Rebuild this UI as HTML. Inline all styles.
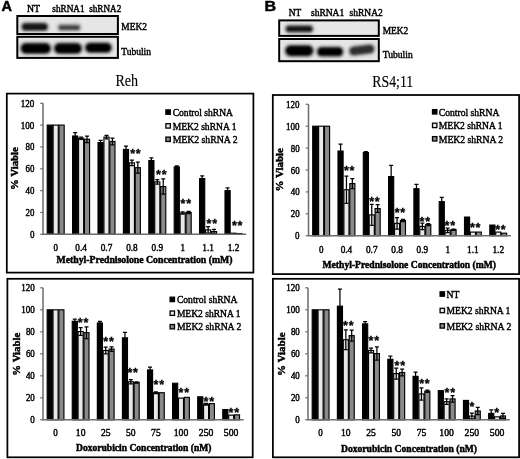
<!DOCTYPE html>
<html lang="en"><head><meta charset="utf-8"><title>MEK2 knockdown figure</title>
<style>html,body{margin:0;padding:0;background:#fff}svg{display:block}</style></head><body>
<svg width="520" height="459" viewBox="0 0 520 459">
<defs><filter id="bl" x="-20%" y="-50%" width="140%" height="200%"><feGaussianBlur stdDeviation="1.1"/></filter><filter id="soft" x="0" y="0" width="520" height="459" filterUnits="userSpaceOnUse"><feGaussianBlur stdDeviation="0.35"/></filter><filter id="bl2" x="-20%" y="-60%" width="140%" height="220%"><feGaussianBlur stdDeviation="1.7"/></filter></defs>
<rect width="520" height="459" fill="#fff"/>
<g filter="url(#soft)">
<text x="1.60" y="11.20" font-family='"Liberation Sans", "DejaVu Sans", sans-serif' font-size="14.5" font-weight="bold" stroke="#000" stroke-width="0.5" >A</text>
<text x="264.40" y="11.40" font-family='"Liberation Sans", "DejaVu Sans", sans-serif' font-size="15" font-weight="bold" textLength="11.60" lengthAdjust="spacingAndGlyphs" stroke="#000" stroke-width="0.5" >B</text>
<rect x="17.3" y="16.0" width="100.60000000000001" height="18.0" fill="#e6e6e6" stroke="#000" stroke-width="2"/>
<rect x="17.3" y="36.8" width="100.60000000000001" height="21.1" fill="#e6e6e6" stroke="#000" stroke-width="2"/>
<g transform="rotate(0 34.8 26.9)"><rect x="20.5" y="22.0" width="28.5" height="9.8" rx="4.7" fill="#111" opacity="0.43" filter="url(#bl2)"/><rect x="22.5" y="23.8" width="24.5" height="6.2" rx="3.1" fill="#111" opacity="0.95" filter="url(#bl)"/></g>
<g transform="rotate(0 69.2 27.6)"><rect x="57.0" y="23.6" width="24.5" height="8.0" rx="3.8" fill="#222" opacity="0.34" filter="url(#bl2)"/><rect x="59.0" y="25.4" width="20.5" height="4.4" rx="2.2" fill="#222" opacity="0.75" filter="url(#bl)"/></g>
<g transform="rotate(0 35.8 48.4)"><rect x="19.5" y="42.0" width="32.5" height="12.8" rx="6.2" fill="#000" opacity="0.45" filter="url(#bl2)"/><rect x="21.5" y="43.8" width="28.5" height="9.2" rx="4.6" fill="#000" opacity="1" filter="url(#bl)"/></g>
<g transform="rotate(0 68.0 48.4)"><rect x="53.0" y="42.0" width="30.0" height="12.8" rx="6.2" fill="#000" opacity="0.45" filter="url(#bl2)"/><rect x="55.0" y="43.8" width="26.0" height="9.2" rx="4.6" fill="#000" opacity="1" filter="url(#bl)"/></g>
<g transform="rotate(0 98.4 47.8)"><rect x="84.0" y="41.8" width="28.8" height="12.0" rx="5.8" fill="#000" opacity="0.45" filter="url(#bl2)"/><rect x="86.0" y="43.6" width="24.8" height="8.4" rx="4.2" fill="#000" opacity="1" filter="url(#bl)"/></g>
<text x="27.00" y="12.00" font-family='"Liberation Serif", "DejaVu Serif", serif' font-size="10" textLength="13.00" lengthAdjust="spacingAndGlyphs" stroke="#000" stroke-width="0.45" >NT</text>
<text x="52.30" y="12.00" font-family='"Liberation Serif", "DejaVu Serif", serif' font-size="10" textLength="32.30" lengthAdjust="spacingAndGlyphs" stroke="#000" stroke-width="0.45" >shRNA1</text>
<text x="89.20" y="12.00" font-family='"Liberation Serif", "DejaVu Serif", serif' font-size="10" textLength="32.10" lengthAdjust="spacingAndGlyphs" stroke="#000" stroke-width="0.45" >shRNA2</text>
<text x="121.30" y="30.40" font-family='"Liberation Serif", "DejaVu Serif", serif' font-size="10.5" textLength="25.70" lengthAdjust="spacingAndGlyphs" stroke="#000" stroke-width="0.45" >MEK2</text>
<text x="121.30" y="55.40" font-family='"Liberation Serif", "DejaVu Serif", serif' font-size="10.5" textLength="29.70" lengthAdjust="spacingAndGlyphs" stroke="#000" stroke-width="0.45" >Tubulin</text>
<rect x="279.2" y="20.4" width="99.60000000000002" height="15.5" fill="#e6e6e6" stroke="#000" stroke-width="2"/>
<rect x="279.2" y="39.0" width="99.60000000000002" height="22.200000000000003" fill="#e6e6e6" stroke="#000" stroke-width="2"/>
<g transform="rotate(0 299.2 28.9)"><rect x="284.5" y="24.5" width="29.5" height="8.8" rx="4.2" fill="#111" opacity="0.43" filter="url(#bl2)"/><rect x="286.5" y="26.3" width="25.5" height="5.2" rx="2.6" fill="#111" opacity="0.95" filter="url(#bl)"/></g>
<g transform="rotate(0 299.2 50.7)"><rect x="284.0" y="44.2" width="30.5" height="13.0" rx="6.3" fill="#000" opacity="0.45" filter="url(#bl2)"/><rect x="286.0" y="46.0" width="26.5" height="9.4" rx="4.7" fill="#000" opacity="1" filter="url(#bl)"/></g>
<g transform="rotate(0 330.1 51.7)"><rect x="316.0" y="46.0" width="28.2" height="11.4" rx="5.5" fill="#000" opacity="0.45" filter="url(#bl2)"/><rect x="318.0" y="47.8" width="24.2" height="7.8" rx="3.9" fill="#000" opacity="1" filter="url(#bl)"/></g>
<g transform="rotate(-7 361.8 50.0)"><rect x="348.0" y="44.4" width="27.5" height="11.2" rx="5.4" fill="#222" opacity="0.41" filter="url(#bl2)"/><rect x="350.0" y="46.2" width="23.5" height="7.6" rx="3.8" fill="#222" opacity="0.9" filter="url(#bl)"/></g>
<text x="288.80" y="15.80" font-family='"Liberation Serif", "DejaVu Serif", serif' font-size="10" textLength="12.50" lengthAdjust="spacingAndGlyphs" stroke="#000" stroke-width="0.45" >NT</text>
<text x="311.00" y="15.80" font-family='"Liberation Serif", "DejaVu Serif", serif' font-size="10" textLength="33.20" lengthAdjust="spacingAndGlyphs" stroke="#000" stroke-width="0.45" >shRNA1</text>
<text x="349.60" y="15.80" font-family='"Liberation Serif", "DejaVu Serif", serif' font-size="10" textLength="33.10" lengthAdjust="spacingAndGlyphs" stroke="#000" stroke-width="0.45" >shRNA2</text>
<text x="382.70" y="34.20" font-family='"Liberation Serif", "DejaVu Serif", serif' font-size="10.5" textLength="25.60" lengthAdjust="spacingAndGlyphs" stroke="#000" stroke-width="0.45" >MEK2</text>
<text x="382.70" y="57.70" font-family='"Liberation Serif", "DejaVu Serif", serif' font-size="10.5" textLength="30.00" lengthAdjust="spacingAndGlyphs" stroke="#000" stroke-width="0.45" >Tubulin</text>
<text x="115.40" y="85.80" font-family='"Liberation Serif", "DejaVu Serif", serif' font-size="17" textLength="22.60" lengthAdjust="spacingAndGlyphs" stroke="#000" stroke-width="0.15" >Reh</text>
<text x="372.30" y="87.00" font-family='"Liberation Serif", "DejaVu Serif", serif' font-size="17" textLength="40.90" lengthAdjust="spacingAndGlyphs" stroke="#000" stroke-width="0.15" >RS4;11</text>
<rect x="6.8" y="93.6" width="246.6" height="179.00000000000003" fill="#fff" stroke="#000" stroke-width="1.75"/>
<rect x="47.22" y="125.10" width="5.12" height="109.20" fill="#000" stroke="#000" stroke-width="1.15"/>
<rect x="53.14" y="125.10" width="5.12" height="109.20" fill="#e9e9e9" stroke="#000" stroke-width="1.15"/>
<rect x="59.06" y="125.10" width="5.12" height="109.20" fill="#8a8a8a" stroke="#000" stroke-width="1.15"/>
<rect x="72.62" y="136.02" width="5.12" height="98.28" fill="#000" stroke="#000" stroke-width="1.15"/>
<rect x="78.54" y="138.20" width="5.12" height="96.10" fill="#e9e9e9" stroke="#000" stroke-width="1.15"/>
<rect x="84.46" y="139.30" width="5.12" height="95.00" fill="#8a8a8a" stroke="#000" stroke-width="1.15"/>
<rect x="98.02" y="142.57" width="5.12" height="91.73" fill="#000" stroke="#000" stroke-width="1.15"/>
<rect x="103.94" y="137.11" width="5.12" height="97.19" fill="#e9e9e9" stroke="#000" stroke-width="1.15"/>
<rect x="109.86" y="141.48" width="5.12" height="92.82" fill="#8a8a8a" stroke="#000" stroke-width="1.15"/>
<rect x="123.42" y="149.45" width="5.12" height="84.85" fill="#000" stroke="#000" stroke-width="1.15"/>
<rect x="129.34" y="162.88" width="5.12" height="71.42" fill="#e9e9e9" stroke="#000" stroke-width="1.15"/>
<rect x="135.26" y="167.69" width="5.12" height="66.61" fill="#8a8a8a" stroke="#000" stroke-width="1.15"/>
<rect x="148.82" y="160.59" width="5.12" height="73.71" fill="#000" stroke="#000" stroke-width="1.15"/>
<rect x="154.74" y="181.88" width="5.12" height="52.42" fill="#e9e9e9" stroke="#000" stroke-width="1.15"/>
<rect x="160.66" y="186.58" width="5.12" height="47.72" fill="#8a8a8a" stroke="#000" stroke-width="1.15"/>
<rect x="174.22" y="166.92" width="5.12" height="67.38" fill="#000" stroke="#000" stroke-width="1.15"/>
<rect x="180.14" y="213.01" width="5.12" height="21.29" fill="#e9e9e9" stroke="#000" stroke-width="1.15"/>
<rect x="186.06" y="212.46" width="5.12" height="21.84" fill="#8a8a8a" stroke="#000" stroke-width="1.15"/>
<rect x="199.62" y="178.61" width="5.12" height="55.69" fill="#000" stroke="#000" stroke-width="1.15"/>
<rect x="205.54" y="229.93" width="5.12" height="4.37" fill="#e9e9e9" stroke="#000" stroke-width="1.15"/>
<rect x="211.46" y="231.57" width="5.12" height="2.73" fill="#8a8a8a" stroke="#000" stroke-width="1.15"/>
<rect x="225.02" y="190.62" width="5.12" height="43.68" fill="#000" stroke="#000" stroke-width="1.15"/>
<rect x="230.94" y="233.21" width="5.12" height="1.09" fill="#e9e9e9" stroke="#000" stroke-width="1.15"/>
<rect x="236.86" y="233.54" width="5.12" height="0.76" fill="#8a8a8a" stroke="#000" stroke-width="1.15"/>
<path d="M75.18 132.74V136.02M73.18 132.74H77.18" stroke="#000" stroke-width="1.25" fill="none"/>
<path d="M81.10 137.11V139.30M79.10 137.11H83.10M79.10 139.30H83.10" stroke="#000" stroke-width="1.25" fill="none"/>
<path d="M87.02 136.02V142.57M85.02 136.02H89.02M85.02 142.57H89.02" stroke="#000" stroke-width="1.25" fill="none"/>
<path d="M100.58 140.39V142.57M98.58 140.39H102.58" stroke="#000" stroke-width="1.25" fill="none"/>
<path d="M106.50 135.47V138.75M104.50 135.47H108.50M104.50 138.75H108.50" stroke="#000" stroke-width="1.25" fill="none"/>
<path d="M112.42 138.20V144.76M110.42 138.20H114.42M110.42 144.76H114.42" stroke="#000" stroke-width="1.25" fill="none"/>
<path d="M125.98 146.18V149.45M123.98 146.18H127.98" stroke="#000" stroke-width="1.25" fill="none"/>
<path d="M131.90 160.15V165.61M129.90 160.15H133.90M129.90 165.61H133.90" stroke="#000" stroke-width="1.25" fill="none"/>
<path d="M137.82 162.23V173.15M135.82 162.23H139.82M135.82 173.15H139.82" stroke="#000" stroke-width="1.25" fill="none"/>
<path d="M151.38 157.86V160.59M149.38 157.86H153.38" stroke="#000" stroke-width="1.25" fill="none"/>
<path d="M157.30 179.70V184.07M155.30 179.70H159.30M155.30 184.07H159.30" stroke="#000" stroke-width="1.25" fill="none"/>
<path d="M163.22 178.94V194.22M161.22 178.94H165.22M161.22 194.22H165.22" stroke="#000" stroke-width="1.25" fill="none"/>
<path d="M176.78 165.83V166.92M174.78 165.83H178.78" stroke="#000" stroke-width="1.25" fill="none"/>
<path d="M182.70 211.91V214.10M180.70 211.91H184.70M180.70 214.10H184.70" stroke="#000" stroke-width="1.25" fill="none"/>
<path d="M188.62 211.37V213.55M186.62 211.37H190.62M186.62 213.55H190.62" stroke="#000" stroke-width="1.25" fill="none"/>
<path d="M202.18 175.88V178.61M200.18 175.88H204.18" stroke="#000" stroke-width="1.25" fill="none"/>
<path d="M208.10 226.66V233.21M206.10 226.66H210.10M206.10 233.21H210.10" stroke="#000" stroke-width="1.25" fill="none"/>
<path d="M214.02 229.39V233.75M212.02 229.39H216.02M212.02 233.75H216.02" stroke="#000" stroke-width="1.25" fill="none"/>
<path d="M227.58 187.89V190.62M225.58 187.89H229.58" stroke="#000" stroke-width="1.25" fill="none"/>
<path d="M43 103.26V234.30H246.2" stroke="#6c6c6c" stroke-width="1.5" fill="none"/>
<path d="M40.20 234.30H43" stroke="#6c6c6c" stroke-width="1.2"/>
<text x="29.90" y="237.80" font-family='"Liberation Serif", "DejaVu Serif", serif' font-size="10.3" textLength="4.50" lengthAdjust="spacingAndGlyphs" stroke="#000" stroke-width="0.45" >0</text>
<path d="M40.20 212.46H43" stroke="#6c6c6c" stroke-width="1.2"/>
<text x="25.50" y="215.96" font-family='"Liberation Serif", "DejaVu Serif", serif' font-size="10.3" textLength="8.90" lengthAdjust="spacingAndGlyphs" stroke="#000" stroke-width="0.45" >20</text>
<path d="M40.20 190.62H43" stroke="#6c6c6c" stroke-width="1.2"/>
<text x="25.50" y="194.12" font-family='"Liberation Serif", "DejaVu Serif", serif' font-size="10.3" textLength="8.90" lengthAdjust="spacingAndGlyphs" stroke="#000" stroke-width="0.45" >40</text>
<path d="M40.20 168.78H43" stroke="#6c6c6c" stroke-width="1.2"/>
<text x="25.50" y="172.28" font-family='"Liberation Serif", "DejaVu Serif", serif' font-size="10.3" textLength="8.90" lengthAdjust="spacingAndGlyphs" stroke="#000" stroke-width="0.45" >60</text>
<path d="M40.20 146.94H43" stroke="#6c6c6c" stroke-width="1.2"/>
<text x="25.50" y="150.44" font-family='"Liberation Serif", "DejaVu Serif", serif' font-size="10.3" textLength="8.90" lengthAdjust="spacingAndGlyphs" stroke="#000" stroke-width="0.45" >80</text>
<path d="M40.20 125.10H43" stroke="#6c6c6c" stroke-width="1.2"/>
<text x="20.80" y="128.60" font-family='"Liberation Serif", "DejaVu Serif", serif' font-size="10.3" textLength="13.60" lengthAdjust="spacingAndGlyphs" stroke="#000" stroke-width="0.45" >100</text>
<path d="M40.20 103.26H43" stroke="#6c6c6c" stroke-width="1.2"/>
<text x="20.80" y="106.76" font-family='"Liberation Serif", "DejaVu Serif", serif' font-size="10.3" textLength="13.60" lengthAdjust="spacingAndGlyphs" stroke="#000" stroke-width="0.45" >120</text>
<text x="53.45" y="251.30" font-family='"Liberation Serif", "DejaVu Serif", serif' font-size="10.3" textLength="4.50" lengthAdjust="spacingAndGlyphs" stroke="#000" stroke-width="0.45" >0</text>
<text x="75.35" y="251.30" font-family='"Liberation Serif", "DejaVu Serif", serif' font-size="10.3" textLength="11.50" lengthAdjust="spacingAndGlyphs" stroke="#000" stroke-width="0.45" >0.4</text>
<text x="100.75" y="251.30" font-family='"Liberation Serif", "DejaVu Serif", serif' font-size="10.3" textLength="11.50" lengthAdjust="spacingAndGlyphs" stroke="#000" stroke-width="0.45" >0.7</text>
<text x="126.15" y="251.30" font-family='"Liberation Serif", "DejaVu Serif", serif' font-size="10.3" textLength="11.50" lengthAdjust="spacingAndGlyphs" stroke="#000" stroke-width="0.45" >0.8</text>
<text x="151.55" y="251.30" font-family='"Liberation Serif", "DejaVu Serif", serif' font-size="10.3" textLength="11.50" lengthAdjust="spacingAndGlyphs" stroke="#000" stroke-width="0.45" >0.9</text>
<text x="180.45" y="251.30" font-family='"Liberation Serif", "DejaVu Serif", serif' font-size="10.3" textLength="4.50" lengthAdjust="spacingAndGlyphs" stroke="#000" stroke-width="0.45" >1</text>
<text x="202.25" y="251.30" font-family='"Liberation Serif", "DejaVu Serif", serif' font-size="10.3" textLength="11.70" lengthAdjust="spacingAndGlyphs" stroke="#000" stroke-width="0.45" >1.1</text>
<text x="227.65" y="251.30" font-family='"Liberation Serif", "DejaVu Serif", serif' font-size="10.3" textLength="11.70" lengthAdjust="spacingAndGlyphs" stroke="#000" stroke-width="0.45" >1.2</text>
<text x="130.20" y="158.30" font-family='"Liberation Sans", "DejaVu Sans", sans-serif' font-size="12.5" font-weight="bold" letter-spacing="0.75" stroke="#000" stroke-width="0.3">**</text>
<text x="156.10" y="178.80" font-family='"Liberation Sans", "DejaVu Sans", sans-serif' font-size="12.5" font-weight="bold" letter-spacing="0.75" stroke="#000" stroke-width="0.3">**</text>
<text x="180.60" y="207.60" font-family='"Liberation Sans", "DejaVu Sans", sans-serif' font-size="12.5" font-weight="bold" letter-spacing="0.75" stroke="#000" stroke-width="0.3">**</text>
<text x="206.60" y="227.60" font-family='"Liberation Sans", "DejaVu Sans", sans-serif' font-size="12.5" font-weight="bold" letter-spacing="0.75" stroke="#000" stroke-width="0.3">**</text>
<text x="231.90" y="230.40" font-family='"Liberation Sans", "DejaVu Sans", sans-serif' font-size="12.5" font-weight="bold" letter-spacing="0.75" stroke="#000" stroke-width="0.3">**</text>
<text x="56.50" y="262.50" font-family='"Liberation Serif", "DejaVu Serif", serif' font-size="10.5" font-weight="bold" textLength="176.00" lengthAdjust="spacingAndGlyphs" stroke="#000" stroke-width="0.5" >Methyl-Prednisolone Concentration (mM)</text>
<text transform="translate(18.3 190.10) rotate(-90)" font-family='"Liberation Serif", "DejaVu Serif", serif' font-size="10.5" font-weight="bold" stroke="#000" stroke-width="0.45" textLength="43" lengthAdjust="spacingAndGlyphs">% Viable</text>
<rect x="165.90" y="109.90" width="4.4" height="4.4" fill="#000" stroke="#000" stroke-width="1.3"/>
<text x="172.70" y="115.80" font-family='"Liberation Serif", "DejaVu Serif", serif' font-size="11" textLength="60.30" lengthAdjust="spacingAndGlyphs" stroke="#000" stroke-width="0.45" >Control shRNA</text>
<rect x="165.90" y="123.70" width="4.4" height="4.4" fill="#e9e9e9" stroke="#000" stroke-width="1.3"/>
<text x="172.70" y="129.60" font-family='"Liberation Serif", "DejaVu Serif", serif' font-size="11" textLength="63.80" lengthAdjust="spacingAndGlyphs" stroke="#000" stroke-width="0.45" >MEK2 shRNA 1</text>
<rect x="165.90" y="137.10" width="4.4" height="4.4" fill="#8a8a8a" stroke="#000" stroke-width="1.3"/>
<text x="172.70" y="143.00" font-family='"Liberation Serif", "DejaVu Serif", serif' font-size="11" textLength="64.80" lengthAdjust="spacingAndGlyphs" stroke="#000" stroke-width="0.45" >MEK2 shRNA 2</text>
<rect x="272.8" y="95.0" width="246.3" height="179.10000000000002" fill="#fff" stroke="#000" stroke-width="1.75"/>
<rect x="312.71" y="126.20" width="5.09" height="109.50" fill="#000" stroke="#000" stroke-width="1.15"/>
<rect x="318.60" y="126.20" width="5.09" height="109.50" fill="#e9e9e9" stroke="#000" stroke-width="1.15"/>
<rect x="324.50" y="126.20" width="5.09" height="109.50" fill="#8a8a8a" stroke="#000" stroke-width="1.15"/>
<rect x="338.01" y="151.06" width="5.09" height="84.64" fill="#000" stroke="#000" stroke-width="1.15"/>
<rect x="343.90" y="189.71" width="5.09" height="45.99" fill="#e9e9e9" stroke="#000" stroke-width="1.15"/>
<rect x="349.80" y="183.58" width="5.09" height="52.12" fill="#8a8a8a" stroke="#000" stroke-width="1.15"/>
<rect x="363.31" y="152.48" width="5.09" height="83.22" fill="#000" stroke="#000" stroke-width="1.15"/>
<rect x="369.20" y="214.89" width="5.09" height="20.80" fill="#e9e9e9" stroke="#000" stroke-width="1.15"/>
<rect x="375.10" y="208.54" width="5.09" height="27.16" fill="#8a8a8a" stroke="#000" stroke-width="1.15"/>
<rect x="388.61" y="176.57" width="5.09" height="59.13" fill="#000" stroke="#000" stroke-width="1.15"/>
<rect x="394.50" y="223.33" width="5.09" height="12.37" fill="#e9e9e9" stroke="#000" stroke-width="1.15"/>
<rect x="400.40" y="220.48" width="5.09" height="15.22" fill="#8a8a8a" stroke="#000" stroke-width="1.15"/>
<rect x="413.91" y="188.72" width="5.09" height="46.98" fill="#000" stroke="#000" stroke-width="1.15"/>
<rect x="419.80" y="226.39" width="5.09" height="9.31" fill="#e9e9e9" stroke="#000" stroke-width="1.15"/>
<rect x="425.70" y="224.64" width="5.09" height="11.06" fill="#8a8a8a" stroke="#000" stroke-width="1.15"/>
<rect x="439.21" y="201.65" width="5.09" height="34.05" fill="#000" stroke="#000" stroke-width="1.15"/>
<rect x="445.10" y="230.33" width="5.09" height="5.37" fill="#e9e9e9" stroke="#000" stroke-width="1.15"/>
<rect x="451.00" y="229.68" width="5.09" height="6.02" fill="#8a8a8a" stroke="#000" stroke-width="1.15"/>
<rect x="464.51" y="217.08" width="5.09" height="18.61" fill="#000" stroke="#000" stroke-width="1.15"/>
<rect x="470.40" y="232.09" width="5.09" height="3.61" fill="#e9e9e9" stroke="#000" stroke-width="1.15"/>
<rect x="476.30" y="232.09" width="5.09" height="3.61" fill="#8a8a8a" stroke="#000" stroke-width="1.15"/>
<rect x="489.81" y="225.08" width="5.09" height="10.62" fill="#000" stroke="#000" stroke-width="1.15"/>
<rect x="495.70" y="232.09" width="5.09" height="3.61" fill="#e9e9e9" stroke="#000" stroke-width="1.15"/>
<rect x="501.60" y="233.18" width="5.09" height="2.52" fill="#8a8a8a" stroke="#000" stroke-width="1.15"/>
<path d="M340.56 144.05V151.06M338.56 144.05H342.56" stroke="#000" stroke-width="1.25" fill="none"/>
<path d="M346.45 176.02V203.40M344.45 176.02H348.45M344.45 203.40H348.45" stroke="#000" stroke-width="1.25" fill="none"/>
<path d="M352.34 178.65V188.51M350.34 178.65H354.34M350.34 188.51H354.34" stroke="#000" stroke-width="1.25" fill="none"/>
<path d="M365.86 151.60V152.48M363.86 151.60H367.86" stroke="#000" stroke-width="1.25" fill="none"/>
<path d="M371.75 204.49V225.30M369.75 204.49H373.75M369.75 225.30H373.75" stroke="#000" stroke-width="1.25" fill="none"/>
<path d="M377.64 204.71V212.38M375.64 204.71H379.64M375.64 212.38H379.64" stroke="#000" stroke-width="1.25" fill="none"/>
<path d="M391.16 165.29V176.57M389.16 165.29H393.16" stroke="#000" stroke-width="1.25" fill="none"/>
<path d="M397.05 217.63V229.02M395.05 217.63H399.05M395.05 229.02H399.05" stroke="#000" stroke-width="1.25" fill="none"/>
<path d="M402.94 219.38V221.57M400.94 219.38H404.94M400.94 221.57H404.94" stroke="#000" stroke-width="1.25" fill="none"/>
<path d="M416.46 184.34V188.72M414.46 184.34H418.46" stroke="#000" stroke-width="1.25" fill="none"/>
<path d="M422.35 223.11V229.68M420.35 223.11H424.35M420.35 229.68H424.35" stroke="#000" stroke-width="1.25" fill="none"/>
<path d="M428.24 223.55V225.74M426.24 223.55H430.24M426.24 225.74H430.24" stroke="#000" stroke-width="1.25" fill="none"/>
<path d="M441.76 197.27V201.65M439.76 197.27H443.76" stroke="#000" stroke-width="1.25" fill="none"/>
<path d="M447.65 228.14V232.52M445.65 228.14H449.65M445.65 232.52H449.65" stroke="#000" stroke-width="1.25" fill="none"/>
<path d="M453.54 229.02V230.33M451.54 229.02H455.54M451.54 230.33H455.54" stroke="#000" stroke-width="1.25" fill="none"/>
<path d="M308.5 104.30V235.70H510.9" stroke="#6c6c6c" stroke-width="1.5" fill="none"/>
<path d="M305.70 235.70H308.5" stroke="#6c6c6c" stroke-width="1.2"/>
<text x="295.10" y="239.20" font-family='"Liberation Serif", "DejaVu Serif", serif' font-size="10.3" textLength="4.50" lengthAdjust="spacingAndGlyphs" stroke="#000" stroke-width="0.45" >0</text>
<path d="M305.70 213.80H308.5" stroke="#6c6c6c" stroke-width="1.2"/>
<text x="290.70" y="217.30" font-family='"Liberation Serif", "DejaVu Serif", serif' font-size="10.3" textLength="8.90" lengthAdjust="spacingAndGlyphs" stroke="#000" stroke-width="0.45" >20</text>
<path d="M305.70 191.90H308.5" stroke="#6c6c6c" stroke-width="1.2"/>
<text x="290.70" y="195.40" font-family='"Liberation Serif", "DejaVu Serif", serif' font-size="10.3" textLength="8.90" lengthAdjust="spacingAndGlyphs" stroke="#000" stroke-width="0.45" >40</text>
<path d="M305.70 170.00H308.5" stroke="#6c6c6c" stroke-width="1.2"/>
<text x="290.70" y="173.50" font-family='"Liberation Serif", "DejaVu Serif", serif' font-size="10.3" textLength="8.90" lengthAdjust="spacingAndGlyphs" stroke="#000" stroke-width="0.45" >60</text>
<path d="M305.70 148.10H308.5" stroke="#6c6c6c" stroke-width="1.2"/>
<text x="290.70" y="151.60" font-family='"Liberation Serif", "DejaVu Serif", serif' font-size="10.3" textLength="8.90" lengthAdjust="spacingAndGlyphs" stroke="#000" stroke-width="0.45" >80</text>
<path d="M305.70 126.20H308.5" stroke="#6c6c6c" stroke-width="1.2"/>
<text x="286.00" y="129.70" font-family='"Liberation Serif", "DejaVu Serif", serif' font-size="10.3" textLength="13.60" lengthAdjust="spacingAndGlyphs" stroke="#000" stroke-width="0.45" >100</text>
<path d="M305.70 104.30H308.5" stroke="#6c6c6c" stroke-width="1.2"/>
<text x="286.00" y="107.80" font-family='"Liberation Serif", "DejaVu Serif", serif' font-size="10.3" textLength="13.60" lengthAdjust="spacingAndGlyphs" stroke="#000" stroke-width="0.45" >120</text>
<text x="318.90" y="252.90" font-family='"Liberation Serif", "DejaVu Serif", serif' font-size="10.3" textLength="4.50" lengthAdjust="spacingAndGlyphs" stroke="#000" stroke-width="0.45" >0</text>
<text x="340.70" y="252.90" font-family='"Liberation Serif", "DejaVu Serif", serif' font-size="10.3" textLength="11.50" lengthAdjust="spacingAndGlyphs" stroke="#000" stroke-width="0.45" >0.4</text>
<text x="366.00" y="252.90" font-family='"Liberation Serif", "DejaVu Serif", serif' font-size="10.3" textLength="11.50" lengthAdjust="spacingAndGlyphs" stroke="#000" stroke-width="0.45" >0.7</text>
<text x="391.30" y="252.90" font-family='"Liberation Serif", "DejaVu Serif", serif' font-size="10.3" textLength="11.50" lengthAdjust="spacingAndGlyphs" stroke="#000" stroke-width="0.45" >0.8</text>
<text x="416.60" y="252.90" font-family='"Liberation Serif", "DejaVu Serif", serif' font-size="10.3" textLength="11.50" lengthAdjust="spacingAndGlyphs" stroke="#000" stroke-width="0.45" >0.9</text>
<text x="445.40" y="252.90" font-family='"Liberation Serif", "DejaVu Serif", serif' font-size="10.3" textLength="4.50" lengthAdjust="spacingAndGlyphs" stroke="#000" stroke-width="0.45" >1</text>
<text x="467.10" y="252.90" font-family='"Liberation Serif", "DejaVu Serif", serif' font-size="10.3" textLength="11.70" lengthAdjust="spacingAndGlyphs" stroke="#000" stroke-width="0.45" >1.1</text>
<text x="492.40" y="252.90" font-family='"Liberation Serif", "DejaVu Serif", serif' font-size="10.3" textLength="11.70" lengthAdjust="spacingAndGlyphs" stroke="#000" stroke-width="0.45" >1.2</text>
<text x="344.00" y="174.90" font-family='"Liberation Sans", "DejaVu Sans", sans-serif' font-size="12.5" font-weight="bold" letter-spacing="0.75" stroke="#000" stroke-width="0.3">**</text>
<text x="369.20" y="205.80" font-family='"Liberation Sans", "DejaVu Sans", sans-serif' font-size="12.5" font-weight="bold" letter-spacing="0.75" stroke="#000" stroke-width="0.3">**</text>
<text x="394.70" y="216.60" font-family='"Liberation Sans", "DejaVu Sans", sans-serif' font-size="12.5" font-weight="bold" letter-spacing="0.75" stroke="#000" stroke-width="0.3">**</text>
<text x="419.60" y="225.50" font-family='"Liberation Sans", "DejaVu Sans", sans-serif' font-size="12.5" font-weight="bold" letter-spacing="0.75" stroke="#000" stroke-width="0.3">**</text>
<text x="444.60" y="230.00" font-family='"Liberation Sans", "DejaVu Sans", sans-serif' font-size="12.5" font-weight="bold" letter-spacing="0.75" stroke="#000" stroke-width="0.3">**</text>
<text x="470.00" y="231.60" font-family='"Liberation Sans", "DejaVu Sans", sans-serif' font-size="12.5" font-weight="bold" letter-spacing="0.75" stroke="#000" stroke-width="0.3">**</text>
<text x="495.20" y="234.30" font-family='"Liberation Sans", "DejaVu Sans", sans-serif' font-size="12.5" font-weight="bold" letter-spacing="0.75" stroke="#000" stroke-width="0.3">**</text>
<text x="322.50" y="267.70" font-family='"Liberation Serif", "DejaVu Serif", serif' font-size="10.5" font-weight="bold" textLength="173.50" lengthAdjust="spacingAndGlyphs" stroke="#000" stroke-width="0.5" >Methyl-Prednisolone Concentration (mM)</text>
<text transform="translate(283.3 191.55) rotate(-90)" font-family='"Liberation Serif", "DejaVu Serif", serif' font-size="10.5" font-weight="bold" stroke="#000" stroke-width="0.45" textLength="43.5" lengthAdjust="spacingAndGlyphs">% Viable</text>
<rect x="432.50" y="109.60" width="4.4" height="4.4" fill="#000" stroke="#000" stroke-width="1.3"/>
<text x="438.80" y="115.50" font-family='"Liberation Serif", "DejaVu Serif", serif' font-size="11" textLength="60.60" lengthAdjust="spacingAndGlyphs" stroke="#000" stroke-width="0.45" >Control shRNA</text>
<rect x="432.50" y="123.20" width="4.4" height="4.4" fill="#e9e9e9" stroke="#000" stroke-width="1.3"/>
<text x="438.80" y="129.10" font-family='"Liberation Serif", "DejaVu Serif", serif' font-size="11" textLength="63.70" lengthAdjust="spacingAndGlyphs" stroke="#000" stroke-width="0.45" >MEK2 shRNA 1</text>
<rect x="432.50" y="136.60" width="4.4" height="4.4" fill="#8a8a8a" stroke="#000" stroke-width="1.3"/>
<text x="438.80" y="142.50" font-family='"Liberation Serif", "DejaVu Serif", serif' font-size="11" textLength="64.40" lengthAdjust="spacingAndGlyphs" stroke="#000" stroke-width="0.45" >MEK2 shRNA 2</text>
<rect x="7.4" y="278.8" width="245.29999999999998" height="178.5" fill="#fff" stroke="#000" stroke-width="1.75"/>
<rect x="47.18" y="309.80" width="5.05" height="110.00" fill="#000" stroke="#000" stroke-width="1.15"/>
<rect x="53.02" y="309.80" width="5.05" height="110.00" fill="#e9e9e9" stroke="#000" stroke-width="1.15"/>
<rect x="58.87" y="309.80" width="5.05" height="110.00" fill="#8a8a8a" stroke="#000" stroke-width="1.15"/>
<rect x="72.26" y="321.35" width="5.05" height="98.45" fill="#000" stroke="#000" stroke-width="1.15"/>
<rect x="78.11" y="331.58" width="5.05" height="88.22" fill="#e9e9e9" stroke="#000" stroke-width="1.15"/>
<rect x="83.95" y="332.68" width="5.05" height="87.12" fill="#8a8a8a" stroke="#000" stroke-width="1.15"/>
<rect x="97.35" y="323.00" width="5.05" height="96.80" fill="#000" stroke="#000" stroke-width="1.15"/>
<rect x="103.20" y="350.50" width="5.05" height="69.30" fill="#e9e9e9" stroke="#000" stroke-width="1.15"/>
<rect x="109.04" y="349.07" width="5.05" height="70.73" fill="#8a8a8a" stroke="#000" stroke-width="1.15"/>
<rect x="122.44" y="337.85" width="5.05" height="81.95" fill="#000" stroke="#000" stroke-width="1.15"/>
<rect x="128.28" y="381.74" width="5.05" height="38.06" fill="#e9e9e9" stroke="#000" stroke-width="1.15"/>
<rect x="134.13" y="382.51" width="5.05" height="37.29" fill="#8a8a8a" stroke="#000" stroke-width="1.15"/>
<rect x="147.53" y="369.97" width="5.05" height="49.83" fill="#000" stroke="#000" stroke-width="1.15"/>
<rect x="153.37" y="392.74" width="5.05" height="27.06" fill="#e9e9e9" stroke="#000" stroke-width="1.15"/>
<rect x="159.22" y="392.74" width="5.05" height="27.06" fill="#8a8a8a" stroke="#000" stroke-width="1.15"/>
<rect x="172.61" y="383.28" width="5.05" height="36.52" fill="#000" stroke="#000" stroke-width="1.15"/>
<rect x="178.46" y="398.13" width="5.05" height="21.67" fill="#e9e9e9" stroke="#000" stroke-width="1.15"/>
<rect x="184.30" y="397.36" width="5.05" height="22.44" fill="#8a8a8a" stroke="#000" stroke-width="1.15"/>
<rect x="197.70" y="396.81" width="5.05" height="22.99" fill="#000" stroke="#000" stroke-width="1.15"/>
<rect x="203.55" y="404.18" width="5.05" height="15.62" fill="#e9e9e9" stroke="#000" stroke-width="1.15"/>
<rect x="209.39" y="403.63" width="5.05" height="16.17" fill="#8a8a8a" stroke="#000" stroke-width="1.15"/>
<rect x="222.79" y="409.57" width="5.05" height="10.23" fill="#000" stroke="#000" stroke-width="1.15"/>
<rect x="228.63" y="415.18" width="5.05" height="4.62" fill="#e9e9e9" stroke="#000" stroke-width="1.15"/>
<rect x="234.48" y="414.85" width="5.05" height="4.95" fill="#8a8a8a" stroke="#000" stroke-width="1.15"/>
<path d="M74.79 319.15V321.35M72.79 319.15H76.79" stroke="#000" stroke-width="1.25" fill="none"/>
<path d="M80.63 327.73V335.43M78.63 327.73H82.63M78.63 335.43H82.63" stroke="#000" stroke-width="1.25" fill="none"/>
<path d="M86.48 326.85V338.51M84.48 326.85H88.48M84.48 338.51H88.48" stroke="#000" stroke-width="1.25" fill="none"/>
<path d="M99.87 321.35V323.00M97.87 321.35H101.87" stroke="#000" stroke-width="1.25" fill="none"/>
<path d="M105.72 347.20V353.80M103.72 347.20H107.72M103.72 353.80H107.72" stroke="#000" stroke-width="1.25" fill="none"/>
<path d="M111.56 346.87V351.27M109.56 346.87H113.56M109.56 351.27H113.56" stroke="#000" stroke-width="1.25" fill="none"/>
<path d="M124.96 332.35V337.85M122.96 332.35H126.96" stroke="#000" stroke-width="1.25" fill="none"/>
<path d="M130.81 379.54V383.94M128.81 379.54H132.81M128.81 383.94H132.81" stroke="#000" stroke-width="1.25" fill="none"/>
<path d="M136.65 381.85V383.17M134.65 381.85H138.65M134.65 383.17H138.65" stroke="#000" stroke-width="1.25" fill="none"/>
<path d="M150.05 367.00V369.97M148.05 367.00H152.05" stroke="#000" stroke-width="1.25" fill="none"/>
<path d="M155.89 391.86V393.62M153.89 391.86H157.89M153.89 393.62H157.89" stroke="#000" stroke-width="1.25" fill="none"/>
<path d="M206.07 403.30V405.06M204.07 403.30H208.07M204.07 405.06H208.07" stroke="#000" stroke-width="1.25" fill="none"/>
<path d="M43 287.80V419.80H243.7" stroke="#6c6c6c" stroke-width="1.5" fill="none"/>
<path d="M40.20 419.80H43" stroke="#6c6c6c" stroke-width="1.2"/>
<text x="30.30" y="423.30" font-family='"Liberation Serif", "DejaVu Serif", serif' font-size="10.3" textLength="4.50" lengthAdjust="spacingAndGlyphs" stroke="#000" stroke-width="0.45" >0</text>
<path d="M40.20 397.80H43" stroke="#6c6c6c" stroke-width="1.2"/>
<text x="25.90" y="401.30" font-family='"Liberation Serif", "DejaVu Serif", serif' font-size="10.3" textLength="8.90" lengthAdjust="spacingAndGlyphs" stroke="#000" stroke-width="0.45" >20</text>
<path d="M40.20 375.80H43" stroke="#6c6c6c" stroke-width="1.2"/>
<text x="25.90" y="379.30" font-family='"Liberation Serif", "DejaVu Serif", serif' font-size="10.3" textLength="8.90" lengthAdjust="spacingAndGlyphs" stroke="#000" stroke-width="0.45" >40</text>
<path d="M40.20 353.80H43" stroke="#6c6c6c" stroke-width="1.2"/>
<text x="25.90" y="357.30" font-family='"Liberation Serif", "DejaVu Serif", serif' font-size="10.3" textLength="8.90" lengthAdjust="spacingAndGlyphs" stroke="#000" stroke-width="0.45" >60</text>
<path d="M40.20 331.80H43" stroke="#6c6c6c" stroke-width="1.2"/>
<text x="25.90" y="335.30" font-family='"Liberation Serif", "DejaVu Serif", serif' font-size="10.3" textLength="8.90" lengthAdjust="spacingAndGlyphs" stroke="#000" stroke-width="0.45" >80</text>
<path d="M40.20 309.80H43" stroke="#6c6c6c" stroke-width="1.2"/>
<text x="21.20" y="313.30" font-family='"Liberation Serif", "DejaVu Serif", serif' font-size="10.3" textLength="13.60" lengthAdjust="spacingAndGlyphs" stroke="#000" stroke-width="0.45" >100</text>
<path d="M40.20 287.80H43" stroke="#6c6c6c" stroke-width="1.2"/>
<text x="21.20" y="291.30" font-family='"Liberation Serif", "DejaVu Serif", serif' font-size="10.3" textLength="13.60" lengthAdjust="spacingAndGlyphs" stroke="#000" stroke-width="0.45" >120</text>
<text x="53.29" y="435.60" font-family='"Liberation Serif", "DejaVu Serif", serif' font-size="10.3" textLength="4.50" lengthAdjust="spacingAndGlyphs" stroke="#000" stroke-width="0.45" >0</text>
<text x="75.83" y="435.60" font-family='"Liberation Serif", "DejaVu Serif", serif' font-size="10.3" textLength="9.60" lengthAdjust="spacingAndGlyphs" stroke="#000" stroke-width="0.45" >10</text>
<text x="100.92" y="435.60" font-family='"Liberation Serif", "DejaVu Serif", serif' font-size="10.3" textLength="9.60" lengthAdjust="spacingAndGlyphs" stroke="#000" stroke-width="0.45" >25</text>
<text x="126.01" y="435.60" font-family='"Liberation Serif", "DejaVu Serif", serif' font-size="10.3" textLength="9.60" lengthAdjust="spacingAndGlyphs" stroke="#000" stroke-width="0.45" >50</text>
<text x="151.09" y="435.60" font-family='"Liberation Serif", "DejaVu Serif", serif' font-size="10.3" textLength="9.60" lengthAdjust="spacingAndGlyphs" stroke="#000" stroke-width="0.45" >75</text>
<text x="173.68" y="435.60" font-family='"Liberation Serif", "DejaVu Serif", serif' font-size="10.3" textLength="14.60" lengthAdjust="spacingAndGlyphs" stroke="#000" stroke-width="0.45" >100</text>
<text x="198.77" y="435.60" font-family='"Liberation Serif", "DejaVu Serif", serif' font-size="10.3" textLength="14.60" lengthAdjust="spacingAndGlyphs" stroke="#000" stroke-width="0.45" >250</text>
<text x="223.86" y="435.60" font-family='"Liberation Serif", "DejaVu Serif", serif' font-size="10.3" textLength="14.60" lengthAdjust="spacingAndGlyphs" stroke="#000" stroke-width="0.45" >500</text>
<text x="77.80" y="327.10" font-family='"Liberation Sans", "DejaVu Sans", sans-serif' font-size="12.5" font-weight="bold" letter-spacing="0.75" stroke="#000" stroke-width="0.3">**</text>
<text x="103.30" y="345.90" font-family='"Liberation Sans", "DejaVu Sans", sans-serif' font-size="12.5" font-weight="bold" letter-spacing="0.75" stroke="#000" stroke-width="0.3">**</text>
<text x="127.40" y="377.10" font-family='"Liberation Sans", "DejaVu Sans", sans-serif' font-size="12.5" font-weight="bold" letter-spacing="0.75" stroke="#000" stroke-width="0.3">**</text>
<text x="153.60" y="388.70" font-family='"Liberation Sans", "DejaVu Sans", sans-serif' font-size="12.5" font-weight="bold" letter-spacing="0.75" stroke="#000" stroke-width="0.3">**</text>
<text x="178.60" y="396.50" font-family='"Liberation Sans", "DejaVu Sans", sans-serif' font-size="12.5" font-weight="bold" letter-spacing="0.75" stroke="#000" stroke-width="0.3">**</text>
<text x="203.60" y="405.90" font-family='"Liberation Sans", "DejaVu Sans", sans-serif' font-size="12.5" font-weight="bold" letter-spacing="0.75" stroke="#000" stroke-width="0.3">**</text>
<text x="228.60" y="416.90" font-family='"Liberation Sans", "DejaVu Sans", sans-serif' font-size="12.5" font-weight="bold" letter-spacing="0.75" stroke="#000" stroke-width="0.3">**</text>
<text x="76.00" y="451.00" font-family='"Liberation Serif", "DejaVu Serif", serif' font-size="10.5" font-weight="bold" textLength="135.50" lengthAdjust="spacingAndGlyphs" stroke="#000" stroke-width="0.5" >Doxorubicin Concentration (nM)</text>
<text transform="translate(19.5 375.70) rotate(-90)" font-family='"Liberation Serif", "DejaVu Serif", serif' font-size="10.5" font-weight="bold" stroke="#000" stroke-width="0.45" textLength="43" lengthAdjust="spacingAndGlyphs">% Viable</text>
<rect x="170.10" y="297.20" width="4.4" height="4.4" fill="#000" stroke="#000" stroke-width="1.3"/>
<text x="176.90" y="303.10" font-family='"Liberation Serif", "DejaVu Serif", serif' font-size="11" textLength="60.60" lengthAdjust="spacingAndGlyphs" stroke="#000" stroke-width="0.45" >Control shRNA</text>
<rect x="170.10" y="311.00" width="4.4" height="4.4" fill="#e9e9e9" stroke="#000" stroke-width="1.3"/>
<text x="176.90" y="316.90" font-family='"Liberation Serif", "DejaVu Serif", serif' font-size="11" textLength="63.50" lengthAdjust="spacingAndGlyphs" stroke="#000" stroke-width="0.45" >MEK2 shRNA 1</text>
<rect x="170.10" y="324.50" width="4.4" height="4.4" fill="#8a8a8a" stroke="#000" stroke-width="1.3"/>
<text x="176.90" y="330.40" font-family='"Liberation Serif", "DejaVu Serif", serif' font-size="11" textLength="64.40" lengthAdjust="spacingAndGlyphs" stroke="#000" stroke-width="0.45" >MEK2 shRNA 2</text>
<rect x="272.9" y="278.8" width="246.20000000000005" height="178.5" fill="#fff" stroke="#000" stroke-width="1.75"/>
<rect x="312.19" y="309.80" width="5.07" height="110.00" fill="#000" stroke="#000" stroke-width="1.15"/>
<rect x="318.07" y="309.80" width="5.07" height="110.00" fill="#e9e9e9" stroke="#000" stroke-width="1.15"/>
<rect x="323.94" y="309.80" width="5.07" height="110.00" fill="#8a8a8a" stroke="#000" stroke-width="1.15"/>
<rect x="337.41" y="306.17" width="5.07" height="113.63" fill="#000" stroke="#000" stroke-width="1.15"/>
<rect x="343.28" y="339.72" width="5.07" height="80.08" fill="#e9e9e9" stroke="#000" stroke-width="1.15"/>
<rect x="349.16" y="335.65" width="5.07" height="84.15" fill="#8a8a8a" stroke="#000" stroke-width="1.15"/>
<rect x="362.62" y="323.88" width="5.07" height="95.92" fill="#000" stroke="#000" stroke-width="1.15"/>
<rect x="368.49" y="350.50" width="5.07" height="69.30" fill="#e9e9e9" stroke="#000" stroke-width="1.15"/>
<rect x="374.37" y="353.58" width="5.07" height="66.22" fill="#8a8a8a" stroke="#000" stroke-width="1.15"/>
<rect x="387.83" y="359.30" width="5.07" height="60.50" fill="#000" stroke="#000" stroke-width="1.15"/>
<rect x="393.71" y="373.60" width="5.07" height="46.20" fill="#e9e9e9" stroke="#000" stroke-width="1.15"/>
<rect x="399.58" y="372.50" width="5.07" height="47.30" fill="#8a8a8a" stroke="#000" stroke-width="1.15"/>
<rect x="413.04" y="376.35" width="5.07" height="43.45" fill="#000" stroke="#000" stroke-width="1.15"/>
<rect x="418.92" y="393.95" width="5.07" height="25.85" fill="#e9e9e9" stroke="#000" stroke-width="1.15"/>
<rect x="424.79" y="391.20" width="5.07" height="28.60" fill="#8a8a8a" stroke="#000" stroke-width="1.15"/>
<rect x="438.26" y="390.65" width="5.07" height="29.15" fill="#000" stroke="#000" stroke-width="1.15"/>
<rect x="444.13" y="401.65" width="5.07" height="18.15" fill="#e9e9e9" stroke="#000" stroke-width="1.15"/>
<rect x="450.01" y="398.90" width="5.07" height="20.90" fill="#8a8a8a" stroke="#000" stroke-width="1.15"/>
<rect x="463.47" y="400.44" width="5.07" height="19.36" fill="#000" stroke="#000" stroke-width="1.15"/>
<rect x="469.34" y="416.06" width="5.07" height="3.74" fill="#e9e9e9" stroke="#000" stroke-width="1.15"/>
<rect x="475.22" y="411.00" width="5.07" height="8.80" fill="#8a8a8a" stroke="#000" stroke-width="1.15"/>
<rect x="488.68" y="413.42" width="5.07" height="6.38" fill="#000" stroke="#000" stroke-width="1.15"/>
<rect x="494.56" y="416.83" width="5.07" height="2.97" fill="#e9e9e9" stroke="#000" stroke-width="1.15"/>
<rect x="500.43" y="415.95" width="5.07" height="3.85" fill="#8a8a8a" stroke="#000" stroke-width="1.15"/>
<path d="M339.94 289.12V306.17M337.94 289.12H341.94" stroke="#000" stroke-width="1.25" fill="none"/>
<path d="M345.82 329.82V349.62M343.82 329.82H347.82M343.82 349.62H347.82" stroke="#000" stroke-width="1.25" fill="none"/>
<path d="M351.69 330.15V341.15M349.69 330.15H353.69M349.69 341.15H353.69" stroke="#000" stroke-width="1.25" fill="none"/>
<path d="M365.16 321.68V323.88M363.16 321.68H367.16" stroke="#000" stroke-width="1.25" fill="none"/>
<path d="M371.03 348.08V352.92M369.03 348.08H373.03M369.03 352.92H373.03" stroke="#000" stroke-width="1.25" fill="none"/>
<path d="M376.91 346.98V360.18M374.91 346.98H378.91M374.91 360.18H378.91" stroke="#000" stroke-width="1.25" fill="none"/>
<path d="M390.37 356.00V359.30M388.37 356.00H392.37" stroke="#000" stroke-width="1.25" fill="none"/>
<path d="M396.24 368.10V379.10M394.24 368.10H398.24M394.24 379.10H398.24" stroke="#000" stroke-width="1.25" fill="none"/>
<path d="M402.12 369.20V375.80M400.12 369.20H404.12M400.12 375.80H404.12" stroke="#000" stroke-width="1.25" fill="none"/>
<path d="M415.58 372.17V376.35M413.58 372.17H417.58" stroke="#000" stroke-width="1.25" fill="none"/>
<path d="M421.46 387.90V400.00M419.46 387.90H423.46M419.46 400.00H423.46" stroke="#000" stroke-width="1.25" fill="none"/>
<path d="M427.33 390.10V392.30M425.33 390.10H429.33M425.33 392.30H429.33" stroke="#000" stroke-width="1.25" fill="none"/>
<path d="M446.67 398.90V404.40M444.67 398.90H448.67M444.67 404.40H448.67" stroke="#000" stroke-width="1.25" fill="none"/>
<path d="M452.54 395.60V402.20M450.54 395.60H454.54M450.54 402.20H454.54" stroke="#000" stroke-width="1.25" fill="none"/>
<path d="M471.88 413.20V418.92M469.88 413.20H473.88M469.88 418.92H473.88" stroke="#000" stroke-width="1.25" fill="none"/>
<path d="M477.76 407.48V414.52M475.76 407.48H479.76M475.76 414.52H479.76" stroke="#000" stroke-width="1.25" fill="none"/>
<path d="M491.22 409.90V413.42M489.22 409.90H493.22" stroke="#000" stroke-width="1.25" fill="none"/>
<path d="M502.97 413.42V418.48M500.97 413.42H504.97M500.97 418.48H504.97" stroke="#000" stroke-width="1.25" fill="none"/>
<path d="M308 287.80V419.80H509.7" stroke="#6c6c6c" stroke-width="1.5" fill="none"/>
<path d="M305.20 419.80H308" stroke="#6c6c6c" stroke-width="1.2"/>
<text x="295.30" y="423.30" font-family='"Liberation Serif", "DejaVu Serif", serif' font-size="10.3" textLength="4.50" lengthAdjust="spacingAndGlyphs" stroke="#000" stroke-width="0.45" >0</text>
<path d="M305.20 397.80H308" stroke="#6c6c6c" stroke-width="1.2"/>
<text x="290.90" y="401.30" font-family='"Liberation Serif", "DejaVu Serif", serif' font-size="10.3" textLength="8.90" lengthAdjust="spacingAndGlyphs" stroke="#000" stroke-width="0.45" >20</text>
<path d="M305.20 375.80H308" stroke="#6c6c6c" stroke-width="1.2"/>
<text x="290.90" y="379.30" font-family='"Liberation Serif", "DejaVu Serif", serif' font-size="10.3" textLength="8.90" lengthAdjust="spacingAndGlyphs" stroke="#000" stroke-width="0.45" >40</text>
<path d="M305.20 353.80H308" stroke="#6c6c6c" stroke-width="1.2"/>
<text x="290.90" y="357.30" font-family='"Liberation Serif", "DejaVu Serif", serif' font-size="10.3" textLength="8.90" lengthAdjust="spacingAndGlyphs" stroke="#000" stroke-width="0.45" >60</text>
<path d="M305.20 331.80H308" stroke="#6c6c6c" stroke-width="1.2"/>
<text x="290.90" y="335.30" font-family='"Liberation Serif", "DejaVu Serif", serif' font-size="10.3" textLength="8.90" lengthAdjust="spacingAndGlyphs" stroke="#000" stroke-width="0.45" >80</text>
<path d="M305.20 309.80H308" stroke="#6c6c6c" stroke-width="1.2"/>
<text x="286.20" y="313.30" font-family='"Liberation Serif", "DejaVu Serif", serif' font-size="10.3" textLength="13.60" lengthAdjust="spacingAndGlyphs" stroke="#000" stroke-width="0.45" >100</text>
<path d="M305.20 287.80H308" stroke="#6c6c6c" stroke-width="1.2"/>
<text x="286.20" y="291.30" font-family='"Liberation Serif", "DejaVu Serif", serif' font-size="10.3" textLength="13.60" lengthAdjust="spacingAndGlyphs" stroke="#000" stroke-width="0.45" >120</text>
<text x="318.36" y="436.20" font-family='"Liberation Serif", "DejaVu Serif", serif' font-size="10.3" textLength="4.50" lengthAdjust="spacingAndGlyphs" stroke="#000" stroke-width="0.45" >0</text>
<text x="341.02" y="436.20" font-family='"Liberation Serif", "DejaVu Serif", serif' font-size="10.3" textLength="9.60" lengthAdjust="spacingAndGlyphs" stroke="#000" stroke-width="0.45" >10</text>
<text x="366.23" y="436.20" font-family='"Liberation Serif", "DejaVu Serif", serif' font-size="10.3" textLength="9.60" lengthAdjust="spacingAndGlyphs" stroke="#000" stroke-width="0.45" >25</text>
<text x="391.44" y="436.20" font-family='"Liberation Serif", "DejaVu Serif", serif' font-size="10.3" textLength="9.60" lengthAdjust="spacingAndGlyphs" stroke="#000" stroke-width="0.45" >50</text>
<text x="416.66" y="436.20" font-family='"Liberation Serif", "DejaVu Serif", serif' font-size="10.3" textLength="9.60" lengthAdjust="spacingAndGlyphs" stroke="#000" stroke-width="0.45" >75</text>
<text x="439.37" y="436.20" font-family='"Liberation Serif", "DejaVu Serif", serif' font-size="10.3" textLength="14.60" lengthAdjust="spacingAndGlyphs" stroke="#000" stroke-width="0.45" >100</text>
<text x="464.58" y="436.20" font-family='"Liberation Serif", "DejaVu Serif", serif' font-size="10.3" textLength="14.60" lengthAdjust="spacingAndGlyphs" stroke="#000" stroke-width="0.45" >250</text>
<text x="489.79" y="436.20" font-family='"Liberation Serif", "DejaVu Serif", serif' font-size="10.3" textLength="14.60" lengthAdjust="spacingAndGlyphs" stroke="#000" stroke-width="0.45" >500</text>
<text x="343.10" y="330.30" font-family='"Liberation Sans", "DejaVu Sans", sans-serif' font-size="12.5" font-weight="bold" letter-spacing="0.75" stroke="#000" stroke-width="0.3">**</text>
<text x="368.60" y="344.50" font-family='"Liberation Sans", "DejaVu Sans", sans-serif' font-size="12.5" font-weight="bold" letter-spacing="0.75" stroke="#000" stroke-width="0.3">**</text>
<text x="394.60" y="369.80" font-family='"Liberation Sans", "DejaVu Sans", sans-serif' font-size="12.5" font-weight="bold" letter-spacing="0.75" stroke="#000" stroke-width="0.3">**</text>
<text x="419.20" y="388.30" font-family='"Liberation Sans", "DejaVu Sans", sans-serif' font-size="12.5" font-weight="bold" letter-spacing="0.75" stroke="#000" stroke-width="0.3">**</text>
<text x="444.60" y="396.50" font-family='"Liberation Sans", "DejaVu Sans", sans-serif' font-size="12.5" font-weight="bold" letter-spacing="0.75" stroke="#000" stroke-width="0.3">**</text>
<text x="469.60" y="410.60" font-family='"Liberation Sans", "DejaVu Sans", sans-serif' font-size="12.5" font-weight="bold" letter-spacing="0.75" stroke="#000" stroke-width="0.3">*</text>
<text x="494.20" y="417.30" font-family='"Liberation Sans", "DejaVu Sans", sans-serif' font-size="12.5" font-weight="bold" letter-spacing="0.75" stroke="#000" stroke-width="0.3">*</text>
<text x="341.00" y="451.90" font-family='"Liberation Serif", "DejaVu Serif", serif' font-size="10.5" font-weight="bold" textLength="136.00" lengthAdjust="spacingAndGlyphs" stroke="#000" stroke-width="0.5" >Doxorubicin Concentration (nM)</text>
<text transform="translate(284.6 375.95) rotate(-90)" font-family='"Liberation Serif", "DejaVu Serif", serif' font-size="10.5" font-weight="bold" stroke="#000" stroke-width="0.45" textLength="43.5" lengthAdjust="spacingAndGlyphs">% Viable</text>
<rect x="440.10" y="291.80" width="4.4" height="4.4" fill="#000" stroke="#000" stroke-width="1.3"/>
<text x="446.50" y="297.70" font-family='"Liberation Serif", "DejaVu Serif", serif' font-size="11" textLength="12.90" lengthAdjust="spacingAndGlyphs" stroke="#000" stroke-width="0.45" >NT</text>
<rect x="440.10" y="308.30" width="4.4" height="4.4" fill="#e9e9e9" stroke="#000" stroke-width="1.3"/>
<text x="446.50" y="314.20" font-family='"Liberation Serif", "DejaVu Serif", serif' font-size="11" textLength="63.90" lengthAdjust="spacingAndGlyphs" stroke="#000" stroke-width="0.45" >MEK2 shRNA 1</text>
<rect x="440.10" y="323.70" width="4.4" height="4.4" fill="#8a8a8a" stroke="#000" stroke-width="1.3"/>
<text x="446.50" y="329.60" font-family='"Liberation Serif", "DejaVu Serif", serif' font-size="11" textLength="64.80" lengthAdjust="spacingAndGlyphs" stroke="#000" stroke-width="0.45" >MEK2 shRNA 2</text>
</g>
</svg></body></html>
